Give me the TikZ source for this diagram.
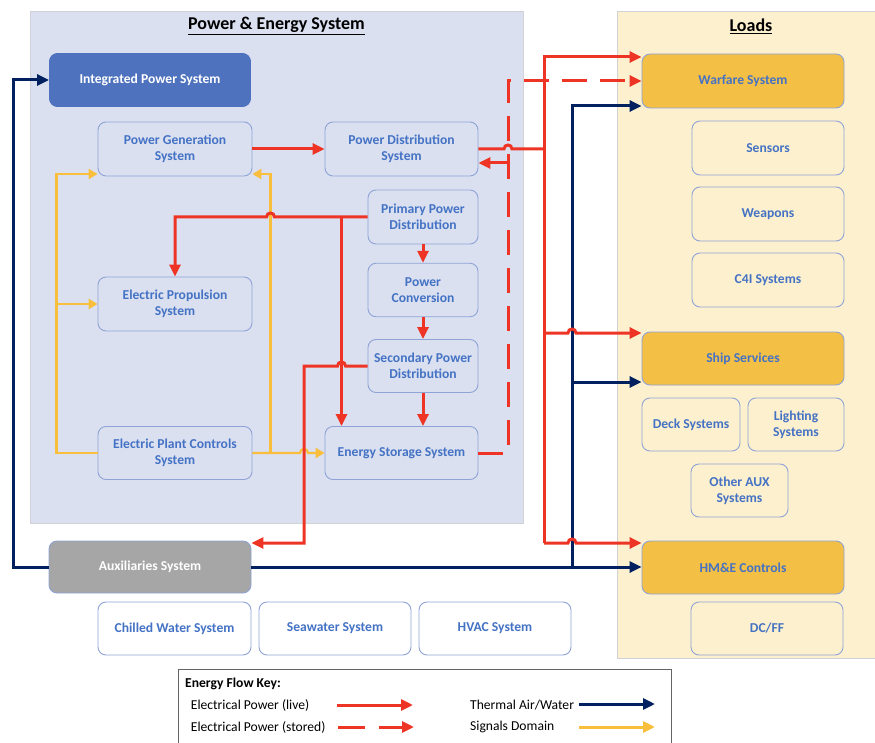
\documentclass[tikz,border=0pt]{standalone}
\usepackage{fontspec}
\setmainfont{Carlito}
\usetikzlibrary{arrows.meta,calc}
\definecolor{elecred}{RGB}{238,52,36}
\definecolor{navy}{RGB}{0,32,96}
\definecolor{sig}{RGB}{248,190,60}
\definecolor{pblue}{RGB}{218,224,240}
\definecolor{pcream}{RGB}{253,240,206}
\definecolor{pedge}{RGB}{208,210,216}
\definecolor{nborder}{RGB}{143,163,214}
\definecolor{ntext}{RGB}{68,114,196}
\definecolor{gold}{RGB}{244,191,69}
\definecolor{ipsblue}{RGB}{79,114,190}
\definecolor{auxgray}{RGB}{166,166,166}
\definecolor{legendgray}{RGB}{100,100,100}
\begin{document}
\begin{tikzpicture}[x=1pt,y=-1pt,
  box/.style={draw=nborder,line width=0.9pt,rounded corners=8pt,align=center,
    text=ntext,font=\fontsize{13.6}{16}\selectfont\bfseries,inner sep=0pt},
  wbox/.style={box,fill=white},
  gbox/.style={box,fill=gold},
  ipsbox/.style={box,fill=ipsblue,draw=ipsblue,text=white},
  auxbox/.style={box,fill=auxgray,text=white},
  title/.style={font=\fontsize{18}{20}\selectfont\bfseries,text=black},
  legtext/.style={anchor=west,font=\fontsize{13.6}{15}\selectfont,text=black,inner sep=0pt},
  elec/.style={draw=elecred,line width=3pt,>={Triangle[length=12pt,width=11pt]}},
  stored/.style={elec,dash pattern=on 25pt off 13pt},
  thermal/.style={draw=navy,line width=3pt,>={Triangle[length=12pt,width=11pt]}},
  signal/.style={draw=sig,line width=2.2pt,>={Triangle[length=9pt,width=10pt]}},
]
\useasboundingbox (0,0) rectangle (875,743);
% panels
\filldraw[fill=pblue,draw=pedge,line width=0.8pt] (30,11) rectangle (523,523.3);
\filldraw[fill=pcream,draw=pedge,line width=0.8pt] (617,11) rectangle (880,658);
\node[title] (ptitle) at (276.5,26) {\underline{Power \& Energy System}};
\node[title] (ltitle) at (751,26) {\underline{Loads}};

% power & energy nodes
\node[ipsbox,minimum width=201pt,minimum height=53pt] (ips) at (150,80) {Integrated Power System};
\node[box,minimum width=154pt,minimum height=54pt] (pgs) at (175,149) {Power Generation\\System};
\node[box,minimum width=153pt,minimum height=54pt] (pds) at (401.5,149) {Power Distribution\\System};
\node[box,minimum width=110pt,minimum height=54pt] (ppd) at (423,217) {Primary Power\\Distribution};
\node[box,minimum width=154pt,minimum height=54pt] (eps) at (175,304) {Electric Propulsion\\System};
\node[box,minimum width=110pt,minimum height=53.5pt] (pc) at (423,290) {Power\\Conversion};
\node[box,minimum width=110pt,minimum height=53pt] (spd) at (423,366) {Secondary Power\\Distribution};
\node[box,minimum width=154pt,minimum height=53pt] (epc) at (175,453) {Electric Plant Controls\\System};
\node[box,minimum width=153pt,minimum height=53pt] (ess) at (401.5,453) {Energy Storage System};

% loads
\node[gbox,minimum width=202pt,minimum height=54pt] (war) at (743,81) {Warfare System};
\node[box,minimum width=152pt,minimum height=54pt] (sens) at (768,148) {Sensors};
\node[box,minimum width=152pt,minimum height=54pt] (weap) at (768,214) {Weapons};
\node[box,minimum width=152pt,minimum height=54pt] (c4i) at (768,280) {C4I Systems};
\node[gbox,minimum width=202pt,minimum height=53pt] (ship) at (743,358.5) {Ship Services};
\node[box,minimum width=98pt,minimum height=53pt] (deck) at (691,424.5) {Deck Systems};
\node[box,minimum width=96pt,minimum height=53pt] (light) at (796,424.5) {Lighting\\Systems};
\node[box,minimum width=97pt,minimum height=53pt] (oaux) at (739.5,490.5) {Other AUX\\Systems};
\node[gbox,minimum width=202pt,minimum height=53pt] (hme) at (743,567.5) {HM\&E Controls};
\node[box,minimum width=152pt,minimum height=53pt] (dcff) at (767,628.5) {DC/FF};

% auxiliaries
\node[auxbox,minimum width=202pt,minimum height=52pt] (aux) at (150,567) {Auxiliaries System};
\node[wbox,minimum width=153pt,minimum height=53pt] (chw) at (174.5,628.5) {Chilled Water System};
\node[wbox,minimum width=152pt,minimum height=53pt] (sea) at (335,628.5) {Seawater System};
\node[wbox,minimum width=152pt,minimum height=53pt] (hvac) at (495,628.5) {HVAC System};

% helper coordinates
\coordinate (yl) at (56.5,174);
\coordinate (ylm) at (56.5,304);
\coordinate (yr) at (270.5,174);
\coordinate (yrb) at (270.5,453);
\coordinate (ppdL) at (175,217);
\coordinate (ppdT) at (341.5,217);
\coordinate (spdD) at (304,543);
\coordinate (dsh) at (508,453);
\coordinate (dst) at (508,81);
\coordinate (pdsin) at (508,163);
\coordinate (rtop) at (544,57);
\coordinate (rpds) at (544,149);
\coordinate (rmid) at (544,333);
\coordinate (rbot) at (544,543);
\coordinate (ntop) at (572,106);
\coordinate (nmid) at (572,382);
\coordinate (nbot) at (572,567);
\coordinate (nleft) at (13.5,567);

% thermal (navy)
\draw[thermal,->] (aux.west) -- (nleft) |- (ips.west);
\draw[thermal,->] (aux.east) -- (aux.east -| hme.west);
\draw[thermal,->] (nbot) -- (ntop) -- (ntop -| war.west);
\draw[thermal,->] (nmid) -- (nmid -| ship.west);

% signals (yellow)
\draw[signal,->] (epc.west) -| (yl) -- (yl -| pgs.west);
\draw[signal,->] (ylm) -- (eps.west);
\draw[signal,->] (epc.east) -- (300,453) .. controls (300,447.7) and (308,447.7) .. (308,453) -- (ess.west);
\draw[signal,->] (yrb) -- (yr) -- (yr -| pgs.east);

% stored power (dashed)
\draw[stored,->] (ess.east) -- (dsh) -- (dst) -- (war.west);

% live power (red)
\draw[elec,->] (pgs.east) -- (pds.west);
\draw[elec] (pds.east) -- (504,149) .. controls (504,143.7) and (512,143.7) .. (512,149) -- (rpds);
\draw[elec,->] (pdsin) -- (pdsin -| pds.east);
\draw[elec,->] (rbot) -- (rtop) -- (rtop -| war.west);
\draw[elec,->] (rmid) -- (568,333) .. controls (568,327.7) and (576,327.7) .. (576,333) -- (rmid -| ship.west);
\draw[elec,->] (rbot) -- (568,543) .. controls (568,537.7) and (576,537.7) .. (576,543) -- (rbot -| hme.west);
\draw[elec,->] (ppd.west) -- (274.5,217) .. controls (274.5,211.7) and (266.5,211.7) .. (266.5,217) -- (ppdL) -- (eps.north);
\draw[elec,->] (ppdT) -- (ppdT |- ess.north);
\draw[elec,->] (spd.west) -- (345.5,366) .. controls (345.5,360.7) and (337.5,360.7) .. (337.5,366) -- (304,366) -- (spdD) -- (spdD -| aux.east);
\draw[elec,->] (ppd.south) -- (pc.north);
\draw[elec,->] (pc.south) -- (spd.north);
\draw[elec,->] (spd.south) -- (spd.south |- ess.north);

% legend
\draw[draw=legendgray,line width=1pt] (178.7,760) -- (178.7,669.3) -- (671.7,669.3) -- (671.7,760);
\node[legtext,font=\fontsize{13.6}{15}\selectfont\bfseries] (lkey) at (185,684) {Energy Flow Key:};
\node[legtext] (l1) at (190.7,705) {Electrical Power (live)};
\node[legtext] (l2) at (190.7,727) {Electrical Power (stored)};
\node[legtext] (l3) at (470,705) {Thermal Air/Water};
\node[legtext] (l4) at (470,727) {Signals Domain};
\coordinate (a1s) at (337,705); \coordinate (a1e) at (413,705);
\coordinate (a2s) at (338,727); \coordinate (a2e) at (414,727);
\coordinate (a3s) at (579,704); \coordinate (a3e) at (655,704);
\coordinate (a4s) at (579,727); \coordinate (a4e) at (655,727);
\draw[elec,->] (a1s) -- (a1e);
\draw[elec,->,dash pattern=on 27pt off 14pt] (a2s) -- (a2e);
\draw[thermal,->] (a3s) -- (a3e);
\draw[signal,line width=3pt,->,>={Triangle[length=12pt,width=11pt]}] (a4s) -- (a4e);
\end{tikzpicture}
\end{document}
